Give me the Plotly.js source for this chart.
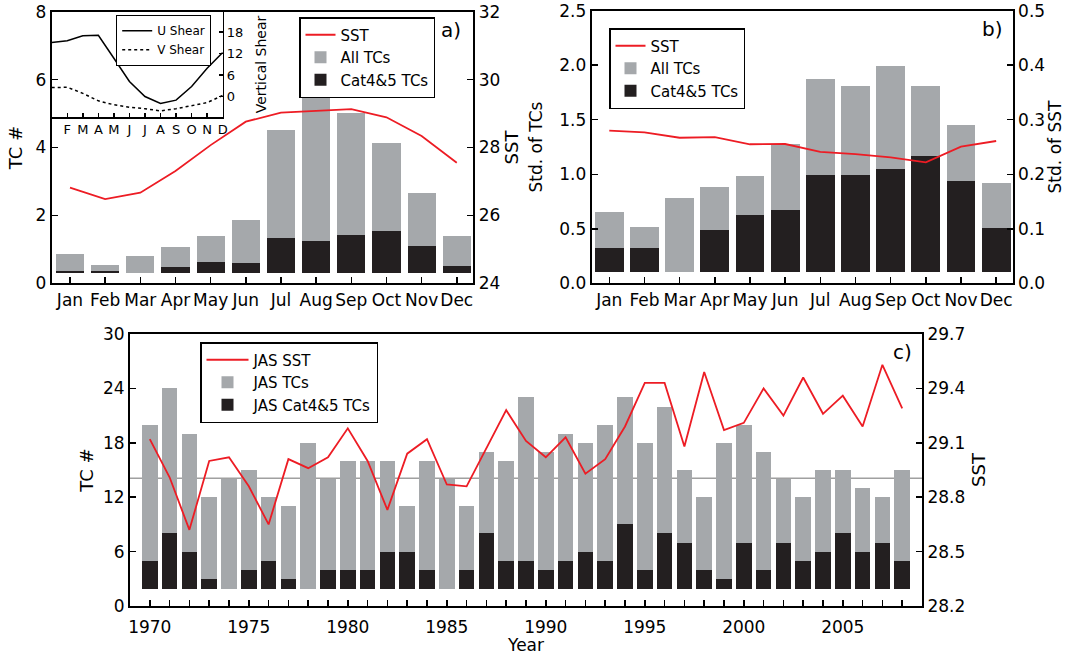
<!DOCTYPE html>
<html><head><meta charset="utf-8">
<script src="https://cdn.plot.ly/plotly-3.0.1.min.js"></script>
<style>html,body{margin:0;padding:0;background:#fff}#chart{width:1065px;height:655px}</style>
</head><body><div id="chart"></div>
<script>
// ---------- shared categories ----------
const months = ['Jan','Feb','Mar','Apr','May','Jun','Jul','Aug','Sep','Oct','Nov','Dec'];
const monthIdx = [0,1,2,3,4,5,6,7,8,9,10,11];
const insetMonthLabels = ['','F','M','A','M','J','J','A','S','O','N','D'];

// ---------- panel a: monthly climatology ----------
const aAllTC = [0.86,0.54,0.80,1.07,1.39,1.86,4.52,5.52,5.03,4.13,2.67,1.39];
const aCat45 = [0.35,0.35,0.29,0.48,0.63,0.60,1.34,1.25,1.42,1.55,1.10,0.51];
const aSST   = [26.82,26.48,26.67,27.31,28.07,28.76,29.03,29.07,29.13,28.89,28.34,27.55];
const aBarBase = 0.29;

// ---------- inset: vertical shear ----------
const uShear = [15.1,15.6,17.0,17.1,10.7,4.2,0.0,-1.95,-1.0,2.8,7.9,12.3];
const vShear = [2.5,2.6,0.9,-1.2,-2.3,-3.0,-3.4,-4.0,-3.4,-2.6,-1.7,0.3];

// ---------- panel b: standard deviations ----------
const bAllTC = [0.65,0.52,0.78,0.88,0.98,1.28,1.87,1.81,1.99,1.81,1.45,0.92];
const bCat45 = [0.32,0.32,0.10,0.49,0.63,0.67,0.99,0.99,1.05,1.165,0.94,0.51];
const bSST   = [0.280,0.277,0.267,0.268,0.255,0.2555,0.241,0.237,0.231,0.222,0.2505,0.261];
const bBarBase = 0.10;

// ---------- panel c: JAS time series ----------
const years = [1970,1971,1972,1973,1974,1975,1976,1977,1978,1979,1980,1981,1982,1983,1984,1985,1986,1987,1988,1989,
               1990,1991,1992,1993,1994,1995,1996,1997,1998,1999,2000,2001,2002,2003,2004,2005,2006,2007,2008];
const cTC    = [20,24,19,12,14,15,12,11,18,14,16,16,16,11,16,14,11,17,16,23,
                17,19,18,20,23,18,22,15,12,18,20,17,14,12,15,15,13,12,15];
const cCat45 = [5,8,6,3,0,4,5,3,0,4,4,4,6,6,4,0,4,8,5,5,
                4,5,6,5,9,4,8,7,4,3,7,4,7,5,6,8,6,7,5];
const cSST   = [29.12,28.91,28.62,29.00,29.02,28.86,28.65,29.01,28.96,29.02,29.18,29.00,28.73,29.04,29.12,28.87,28.86,29.07,29.28,29.11,
                29.02,29.13,28.93,29.01,29.19,29.43,29.43,29.08,29.49,29.17,29.21,29.40,29.25,29.46,29.26,29.36,29.19,29.53,29.29];
const cBarBase = 1.9;
const cMeanTC = 14.1;
const yearTickText = years.map(y => (y % 5 === 0 ? String(y) : ''));

// ---------- styles ----------
const GREY = '#a5a8ab', BLACK = '#231f20', RED = '#ed1c24';
const FONT = 'DejaVu Sans';
const heights = (vals, base) => vals.map(v => Math.max(v - base, 0));
const W = 1065, H = 655;
const px = v => v / W, py = v => 1 - v / H;

const traces = [
  // panel a
  {type:'bar', x:monthIdx, y:heights(aAllTC,aBarBase), base:aBarBase, width:0.8, marker:{color:GREY},
   name:'All TCs', xaxis:'x', yaxis:'y', legend:'legend', legendrank:2},
  {type:'bar', x:monthIdx, y:heights(aCat45,aBarBase), base:aBarBase, width:0.8, marker:{color:BLACK},
   name:'Cat4&5 TCs', xaxis:'x', yaxis:'y', legend:'legend', legendrank:3},
  {type:'scatter', mode:'lines', x:monthIdx, y:aSST, line:{color:RED, width:1.8},
   name:'SST', xaxis:'x', yaxis:'y2', legend:'legend', legendrank:1},
  // inset
  {type:'scatter', mode:'lines', x:monthIdx, y:uShear, line:{color:'black', width:1.5},
   name:'U Shear', xaxis:'x2', yaxis:'y3', legend:'legend2', legendrank:1},
  {type:'scatter', mode:'lines', x:monthIdx, y:vShear, line:{color:'black', width:1.5, dash:'dot'},
   name:'V Shear', xaxis:'x2', yaxis:'y3', legend:'legend2', legendrank:2},
  // panel b
  {type:'bar', x:monthIdx, y:heights(bAllTC,bBarBase), base:bBarBase, width:0.82, marker:{color:GREY},
   name:'All TCs', xaxis:'x3', yaxis:'y4', legend:'legend3', legendrank:2},
  {type:'bar', x:monthIdx, y:heights(bCat45,bBarBase), base:bBarBase, width:0.82, marker:{color:BLACK},
   name:'Cat4&5 TCs', xaxis:'x3', yaxis:'y4', legend:'legend3', legendrank:3},
  {type:'scatter', mode:'lines', x:monthIdx, y:bSST, line:{color:RED, width:1.8},
   name:'SST', xaxis:'x3', yaxis:'y5', legend:'legend3', legendrank:1},
  // panel c
  {type:'bar', x:years, y:heights(cTC,cBarBase), base:cBarBase, width:0.79, marker:{color:GREY},
   name:'JAS TCs', xaxis:'x4', yaxis:'y6', legend:'legend4', legendrank:2},
  {type:'bar', x:years, y:heights(cCat45,cBarBase), base:cBarBase, width:0.79, marker:{color:BLACK},
   name:'JAS Cat4&5 TCs', xaxis:'x4', yaxis:'y6', legend:'legend4', legendrank:3},
  {type:'scatter', mode:'lines', x:years, y:cSST, line:{color:RED, width:1.8},
   name:'JAS SST', xaxis:'x4', yaxis:'y7', legend:'legend4', legendrank:1}
];

const axBase = {showline:true, linecolor:'black', linewidth:2, ticks:'inside', ticklen:6, tickwidth:1.5,
  tickcolor:'black', showgrid:false, zeroline:false, fixedrange:true, tickfont:{size:17, family:FONT, color:'black'}};
const ttl = (t, size, standoff) => ({text:t, font:{size:size||18, family:FONT, color:'black'}, standoff:standoff||8});

const layout = {
  width:W, height:H, margin:{l:0,r:0,t:0,b:0}, paper_bgcolor:'white', plot_bgcolor:'rgba(0,0,0,0)',
  font:{family:FONT, color:'black'}, barmode:'overlay', bargap:0,
  // panel a
  xaxis:Object.assign({}, axBase, {domain:[px(51.7), px(473.3)], anchor:'y', range:[-0.52,11.47],
    tickvals:monthIdx, ticktext:months, tickangle:0, mirror:true}),
  yaxis:Object.assign({}, axBase, {domain:[py(283.3), py(11.7)], anchor:'x', range:[0,8], dtick:2,
    title:ttl('TC #',18,8)}),
  yaxis2:Object.assign({}, axBase, {overlaying:'y', anchor:'x', side:'right', range:[24,32], dtick:2,
    title:ttl('SST',18,6)}),
  // inset
  xaxis2:Object.assign({}, axBase, {domain:[px(51.7), px(222.7)], anchor:'y3', range:[0,11],
    tickvals:monthIdx, ticktext:insetMonthLabels, tickangle:0, ticklen:4, linewidth:1.5, mirror:true,
    tickfont:{size:13, family:FONT, color:'black'}}),
  yaxis3:Object.assign({}, axBase, {domain:[py(117.3), py(11.7)], anchor:'x2', side:'right', range:[-5.8,23.7],
    tickvals:[0,6,12,18], ticklen:4, linewidth:1.5, tickfont:{size:13, family:FONT, color:'black'},
    title:ttl('Vertical Shear',14,14)}),
  // panel b
  xaxis3:Object.assign({}, axBase, {domain:[px(591.7), px(1012.7)], anchor:'y4', range:[-0.5,11.47],
    tickvals:monthIdx, ticktext:months, tickangle:0, mirror:true}),
  yaxis4:Object.assign({}, axBase, {domain:[py(283.3), py(10.7)], anchor:'x3', range:[0,2.5], dtick:0.5,
    tickformat:'.1f', title:ttl('Std. of TCs',17,12)}),
  yaxis5:Object.assign({}, axBase, {overlaying:'y4', anchor:'x3', side:'right', range:[0,0.5], dtick:0.1,
    tickformat:'.1f', title:ttl('Std. of SST',17,10)}),
  // panel c
  xaxis4:Object.assign({}, axBase, {domain:[px(130), px(922)], anchor:'y6', range:[1969,2009],
    tickvals:years, ticktext:yearTickText, tickangle:0, mirror:true, ticklabelstandoff:5, title:ttl('Year',17,6)}),
  yaxis6:Object.assign({}, axBase, {domain:[py(606), py(334)], anchor:'x4', range:[0,30], dtick:6,
    title:ttl('TC #',18,5)}),
  yaxis7:Object.assign({}, axBase, {overlaying:'y6', anchor:'x4', side:'right', range:[28.2,29.7], dtick:0.3,
    tickformat:'.1f', title:ttl('SST',18,8)}),
  legend:{x:px(299), y:py(17), xanchor:'left', yanchor:'top', bgcolor:'white', bordercolor:'black', borderwidth:1.5,
    font:{size:15, family:FONT, color:'black'}, traceorder:'normal', itemwidth:30, tracegroupgap:0},
  legend2:{x:px(116), y:py(15), xanchor:'left', yanchor:'top', bgcolor:'white', bordercolor:'black', borderwidth:1.2,
    font:{size:12, family:FONT, color:'black'}, traceorder:'normal', itemwidth:30, tracegroupgap:0},
  legend3:{x:px(609), y:py(28), xanchor:'left', yanchor:'top', bgcolor:'white', bordercolor:'black', borderwidth:1.5,
    font:{size:15, family:FONT, color:'black'}, traceorder:'normal', itemwidth:30, tracegroupgap:0},
  legend4:{x:px(200), y:py(342), xanchor:'left', yanchor:'top', bgcolor:'white', bordercolor:'black', borderwidth:1.5,
    font:{size:15, family:FONT, color:'black'}, traceorder:'normal', itemwidth:42, tracegroupgap:0},
  shapes:[
    {type:'line', xref:'x4 domain', x0:0, x1:1, yref:'y6', y0:cMeanTC, y1:cMeanTC,
     line:{color:'#a0a0a0', width:1.5}, layer:'below'}
  ],
  annotations:[
    {text:'a)', xref:'paper', yref:'paper', x:px(463), y:py(30), xanchor:'right', yanchor:'middle', showarrow:false,
     font:{size:20, family:FONT, color:'black'}},
    {text:'b)', xref:'paper', yref:'paper', x:px(1005), y:py(29), xanchor:'right', yanchor:'middle', showarrow:false,
     font:{size:20, family:FONT, color:'black'}},
    {text:'c)', xref:'paper', yref:'paper', x:px(914), y:py(352), xanchor:'right', yanchor:'middle', showarrow:false,
     font:{size:20, family:FONT, color:'black'}}
  ]
};

Plotly.newPlot('chart', traces, layout, {displayModeBar:false, staticPlot:true});
</script>
</body></html>
